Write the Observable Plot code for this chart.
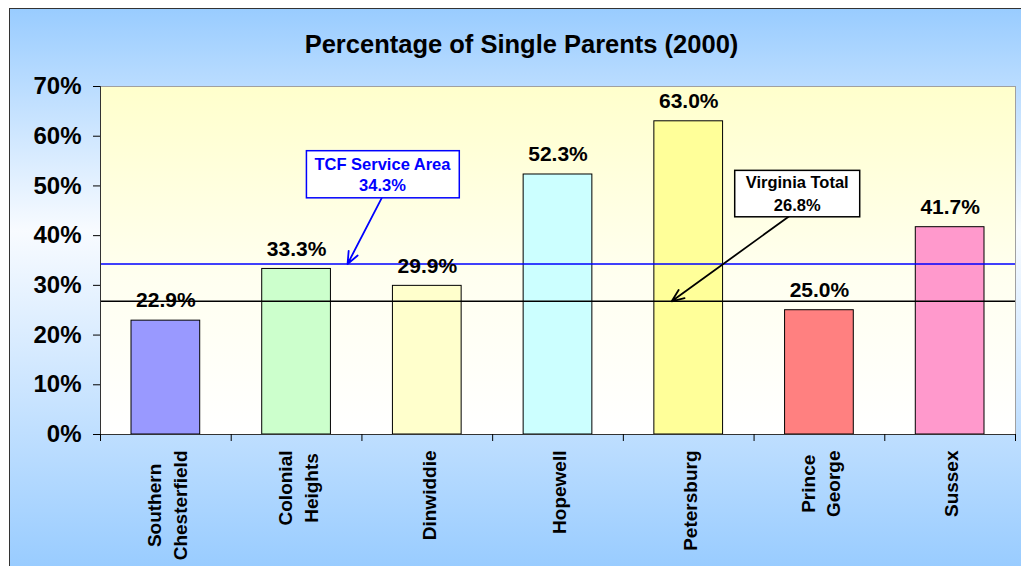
<!DOCTYPE html>
<html><head><meta charset="utf-8">
<script src="https://cdn.jsdelivr.net/npm/d3@7"></script>
<script src="https://cdn.jsdelivr.net/npm/@observablehq/plot@0.6"></script>
<style>
html,body{margin:0;padding:0;background:#fff;overflow:hidden}
#wrap{position:relative;width:1021px;height:566px;overflow:hidden;font-family:"Liberation Sans",Arial,sans-serif}
#bg{position:absolute;left:9px;top:8px;width:1040px;height:600px;box-sizing:border-box;border-left:1px solid #333;border-top:1px solid #333;background:linear-gradient(to bottom,#99ccff 0px,#f8fbff 222px,#99ccff 558px)}
#title{position:absolute;left:11px;top:29px;width:1021px;text-align:center;font-size:25.5px;font-weight:bold;line-height:30px;color:#000}
#chart{position:absolute;left:0;top:70px}
</style></head><body>
<div id="wrap"><div id="bg"></div><div id="title">Percentage of Single Parents (2000)</div><div id="chart"></div></div>
<script>
// ---- data ----
const categories = ["Southern Chesterfield", "Colonial Heights", "Dinwiddie", "Hopewell", "Petersburg", "Prince George", "Sussex"];
const values = [0.229, 0.333, 0.299, 0.523, 0.630, 0.250, 0.417];
const barColors = ["#9999ff", "#ccffcc", "#ffffcc", "#ccffff", "#ffff99", "#ff8080", "#ff99cc"];
const yTicks = [0, 0.1, 0.2, 0.3, 0.4, 0.5, 0.6, 0.7];
const refLabels = ["TCF Service Area", "Virginia Total"];
const refValues = [0.343, 0.268];
const refColors = ["#0000ff", "#000000"];
// annotation placement (in category units / value units)
const annotX = [2.157, 5.33];
const annotY = [0.525, 0.487];
const arrowStartX = [2.15, 5.29];
const arrowStartY = [0.475, 0.443];
const arrowEndX = [1.89, 4.37];

// ---- build ----
const bars = categories.map((c, i) => ({category: c, index: i, value: values[i]}));
const labelTicks = categories.map((c, i) => i + 0.5);
const boundaryTicks = d3.range(categories.length + 1);
const pct1 = d3.format(".1%");
const W = 1021, H = 496, ML = 100, MR = 6, MT = 16, MB = 132;

const annMarks = [];
refLabels.forEach((lab, i) => {
  annMarks.push(Plot.arrow([0], {
    x1: () => arrowStartX[i], y1: () => arrowStartY[i],
    x2: () => arrowEndX[i], y2: () => refValues[i],
    stroke: refColors[i], strokeWidth: 1.8, headLength: 11, headAngle: 45
  }));
  annMarks.push(Plot.text([0], {
    x: () => annotX[i], y: () => annotY[i],
    text: () => lab + "\n" + pct1(refValues[i]),
    fill: refColors[i], fontSize: 16.5, fontWeight: "bold",
    lineHeight: i === 0 ? 1.28 : 1.36, className: "annot" + i, letterSpacing: 0.6
  }));
});

const chart = Plot.plot({
  width: W, height: H,
  marginLeft: ML, marginRight: MR, marginTop: MT, marginBottom: MB,
  style: {background: "transparent", fontFamily: "'Liberation Sans', Arial, sans-serif", color: "#000", overflow: "visible"},
  x: {type: "linear", domain: [0, categories.length], nice: false},
  y: {domain: [0, 0.7], nice: false},
  color: {domain: categories, range: barColors},
  marks: [
    Plot.frame({fill: "url(#plotBg)", stroke: "#a0a0a0"}),
    Plot.rectY(bars, {x1: "index", x2: d => d.index + 1, y: "value", fill: "category", stroke: "#000", strokeWidth: 1, insetLeft: 31, insetRight: 31}),
    ...refValues.map((v, i) => Plot.ruleY([v], {stroke: refColors[i], strokeWidth: 1.3})),
    Plot.ruleY([0], {stroke: "#333"}),
    Plot.ruleX([0], {stroke: "#333"}),
    Plot.axisY({ticks: yTicks, tickFormat: d3.format(".0%"), tickSize: 7, tickPadding: 12, fontSize: 24, fontWeight: "bold", label: null}),
    Plot.axisX({ticks: boundaryTicks, tickFormat: () => "", tickSize: 7, label: null}),
    Plot.axisX({ticks: labelTicks, tickFormat: t => categories[Math.floor(t)].replace(" ", "\n"), tickSize: 0, tickPadding: 16, tickRotate: -90, fontSize: 19, fontWeight: "bold", lineHeight: 1.35, label: null}),
    Plot.text(bars, {x: d => d.index + 0.5, y: "value", text: d => pct1(d.value), dy: -20, fontSize: 21, fontWeight: "bold", fill: "#000"}),
    ...annMarks
  ]
});

const svg = d3.select(chart);
svg.insert("defs", ":first-child").html(
  '<linearGradient id="plotBg" x1="0" y1="0" x2="0" y2="1">' +
  '<stop offset="0" stop-color="#ffffcc"/><stop offset="0.55" stop-color="#fffff0"/><stop offset="1" stop-color="#ffffff"/></linearGradient>');
document.getElementById("chart").appendChild(chart);

// center multi-line rotated category labels within their block
const catSet = new Set(categories.map(c => c.replace(" ", "")));
svg.selectAll("text").each(function () {
  const tspans = this.querySelectorAll("tspan");
  if (tspans.length < 2) return;
  if (!catSet.has(this.textContent)) return;
  let L = 0;
  tspans.forEach(t => { L = Math.max(L, t.getComputedTextLength()); });
  this.setAttribute("text-anchor", "middle");
  tspans.forEach(t => t.setAttribute("x", -L / 2));
});

// boxes behind annotation text
const boxPadX = [8, 11], boxPadY = [4, 3];
refColors.forEach((col, i) => {
  svg.selectAll(".annot" + i + " text, text.annot" + i).each(function () {
    const b = this.getBBox();
    const padX = boxPadX[i], padY = boxPadY[i];
    const r = d3.select(this.parentNode).insert("rect", () => this)
      .attr("x", b.x - padX).attr("y", b.y - padY)
      .attr("width", b.width + 2 * padX).attr("height", b.height + 2 * padY)
      .attr("fill", "#fff").attr("stroke", col).attr("stroke-width", 1.5);
    const tr = this.getAttribute("transform");
    if (tr) r.attr("transform", tr);
  });
});
</script></body></html>
